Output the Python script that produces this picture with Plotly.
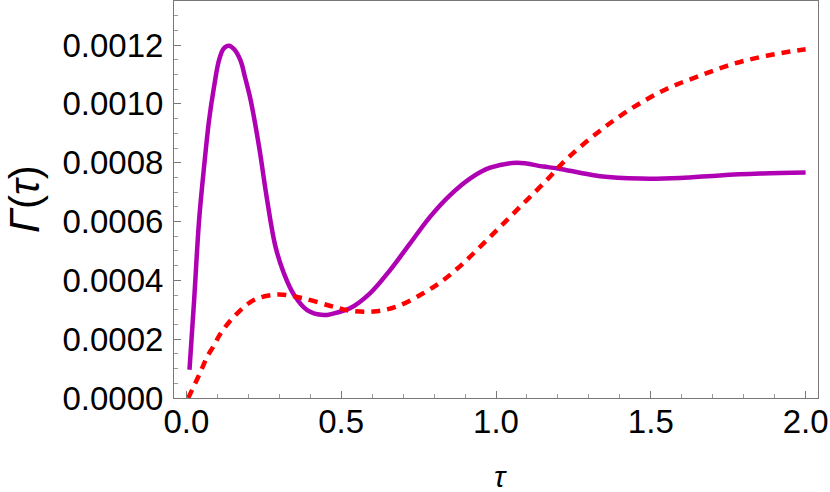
import plotly.graph_objects as go

# purple (solid) curve
tau_solid = [0.01, 0.025, 0.041, 0.057, 0.073, 0.089, 0.105, 0.12, 0.1376, 0.155,
             0.175, 0.19, 0.208, 0.235, 0.261, 0.288, 0.315, 0.348, 0.39, 0.444,
             0.47, 0.528, 0.593, 0.658, 0.722, 0.787, 0.851, 0.916, 0.981, 1.067,
             1.153, 1.207, 1.271, 1.336, 1.465, 1.594, 1.723, 1.853, 2.0]
gamma_solid = [0.000096, 0.000333, 0.000604, 0.000785, 0.000943, 0.001056, 0.001147, 0.001188,
               0.001198, 0.001185, 0.001147, 0.001088, 0.001011, 0.000853, 0.000672, 0.000514,
               0.000424, 0.00035, 0.000299, 0.000282, 0.000286, 0.000305, 0.000356, 0.000435,
               0.000525, 0.000616, 0.000689, 0.000746, 0.000783, 0.0008, 0.000787, 0.000779,
               0.000766, 0.000754, 0.000746, 0.000748, 0.000757, 0.000763, 0.000767]

# red (dashed) curve
tau_dashed = [0.006, 0.044, 0.0675, 0.087, 0.111, 0.154, 0.218, 0.294, 0.369, 0.466,
              0.528, 0.604, 0.679, 0.765, 0.83, 0.894, 0.959, 1.024, 1.088, 1.153,
              1.228, 1.336, 1.443, 1.551, 1.659, 1.766, 1.874, 2.0]
gamma_dashed = [0.0, 0.000085, 0.000141, 0.000175, 0.00022, 0.000277, 0.000333, 0.000352,
                0.000341, 0.000313, 0.000297, 0.000294, 0.000311, 0.000356, 0.000401, 0.000458,
                0.000525, 0.000593, 0.000661, 0.000729, 0.000812, 0.000909, 0.000988, 0.001051,
                0.001096, 0.001136, 0.001164, 0.001186]

FONT = "Liberation Sans, Arial, sans-serif"

fig = go.Figure()
fig.add_trace(go.Scatter(x=tau_solid, y=gamma_solid, mode="lines",
                         line=dict(color="#AF00B4", width=4.5, shape="spline", smoothing=1.0)))
fig.add_trace(go.Scatter(x=tau_dashed, y=gamma_dashed, mode="lines",
                         line=dict(color="#FF0000", width=4.5, dash="9px,7px", shape="spline", smoothing=1.0)))

axis_style = dict(showline=True, mirror=True, linecolor="#777777", linewidth=1,
                  ticks="inside", tickcolor="#777777", ticklen=7, showgrid=False,
                  zeroline=False, automargin=False,
                  tickfont=dict(family=FONT, size=33, color="black"))

fig.update_xaxes(range=[-0.04, 2.04], dtick=0.5, tick0=0, tickformat=".1f",
                 ticklabelstandoff=-6,
                 minor=dict(dtick=0.1, ticks="inside", ticklen=4, tickcolor="#999999"),
                 **axis_style)
fig.update_yaxes(range=[0, 0.00135], dtick=0.0002, tick0=0, tickformat=".4f",
                 ticklabelstandoff=3,
                 minor=dict(dtick=0.00005, ticks="inside", ticklen=4, tickcolor="#999999"),
                 **axis_style)

fig.add_annotation(text="<i>Γ</i>(<i>τ</i>)", xref="paper", yref="paper",
                   x=(25 - 174) / 644, y=(398 - 199) / 397, textangle=-90,
                   xanchor="center", yanchor="middle",
                   showarrow=False, font=dict(family=FONT, size=42, color="black"))
fig.add_annotation(text="<i>τ</i>", xref="paper", yref="paper",
                   x=(500 - 174) / 644, y=(398 - 476) / 397,
                   xanchor="center", yanchor="middle",
                   showarrow=False, font=dict(family=FONT, size=30, color="black"))

fig.update_layout(width=830, height=492, showlegend=False,
                  margin=dict(l=174, r=12, t=1, b=94),
                  plot_bgcolor="white", paper_bgcolor="white")

# the page's default body margin would shift the figure by 8px
fig.write_html("out.html", config={"displayModeBar": False},
               post_script="document.body.style.margin='0';")
